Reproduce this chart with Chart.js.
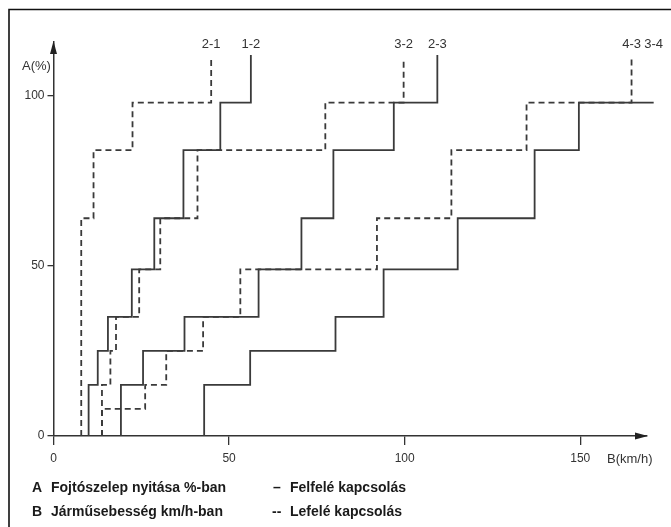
<!DOCTYPE html>
<html>
<head>
<meta charset="utf-8">
<script src="https://cdn.jsdelivr.net/npm/chart.js@4"></script>
<style>
  html, body { margin: 0; padding: 0; background: #fff; }
  #wrap { width: 671px; height: 527px; }
</style>
</head>
<body>
<div id="wrap"><canvas id="shiftChart" width="671" height="527"></canvas></div>
<script>
// throttle opening (A, %) where the steps are, bottom to top
const levels = [0, 8, 15, 25, 35, 49, 64, 84, 98];
const topUp = 112;      // where the solid lines end
const topDown = 111;    // where the dashed lines end
const labelLevel = 115.2;

// vehicle speed (B, km/h) for each throttle band
const up12   = [10.0, 10.0, 12.6, 15.5, 22.3, 28.7, 37.0, 47.5, 56.2];
const up23   = [19.2, 19.2, 25.5, 37.3, 58.4, 70.6, 79.7, 96.9, 109.3];
const up34   = [42.9, 42.9, 56.0, 80.3, 94.0, 115.1, 137.0, 149.6, 170.9];
const down21 = [7.9, 7.9, 7.9, 7.9, 7.9, 7.9, 11.4, 22.5, 44.9];
const down32 = [13.8, 13.8, 16.2, 17.8, 24.4, 30.4, 41.0, 77.4, 99.7];
const down43 = [13.8, 26.1, 32.1, 42.6, 53.2, 92.1, 113.3, 134.7, 164.6];

const xTicks = [0, 50, 100, 150];
const yTicks = [0, 50, 100];

const series = [
    { name: '2-1', speeds: down21, dashed: true },
    { name: '1-2', speeds: up12, dashed: false },
    { name: '3-2', speeds: down32, dashed: true },
    { name: '2-3', speeds: up23, dashed: false },
    { name: '4-3', speeds: down43, dashed: true },
    { name: '3-4', speeds: up34, dashed: false }
];

const FONT = '"Liberation Sans", Arial, Helvetica, sans-serif';
const LINE = '#3a3a3a';

// turn the speed per band into a staircase
function stepPoints(speeds, top) {
    const pts = [];
    speeds.forEach((s, i) => {
        const next = i < levels.length - 1 ? levels[i + 1] : top;
        pts.push({ x: s, y: levels[i] }, { x: s, y: next });
    });
    return pts;
}

const decorations = {
    id: 'decorations',
    afterDraw(chart) {
        const ctx = chart.ctx;
        const xs = chart.scales.x, ys = chart.scales.y;
        const x0 = xs.getPixelForValue(0), y0 = ys.getPixelForValue(0);
        ctx.save();

        // frame (left + top only)
        ctx.strokeStyle = '#111';
        ctx.lineWidth = 1.6;
        ctx.beginPath();
        ctx.moveTo(9, 527);
        ctx.lineTo(9, 9.5);
        ctx.lineTo(671, 9.5);
        ctx.stroke();

        // arrow heads
        ctx.fillStyle = '#222';
        ctx.beginPath();
        ctx.moveTo(x0, ys.top - 1);
        ctx.lineTo(x0 - 3.5, ys.top + 12);
        ctx.lineTo(x0 + 3.5, ys.top + 12);
        ctx.closePath();
        ctx.fill();
        ctx.beginPath();
        ctx.moveTo(xs.right + 1, y0);
        ctx.lineTo(xs.right - 12, y0 - 3.5);
        ctx.lineTo(xs.right - 12, y0 + 3.5);
        ctx.closePath();
        ctx.fill();

        // axis titles
        ctx.fillStyle = '#333';
        ctx.font = '13px ' + FONT;
        ctx.textBaseline = 'middle';
        ctx.textAlign = 'left';
        ctx.fillText('A(%)', 22, 66);
        ctx.fillText('B(km/h)', 607, 459);

        // gear change labels above each line
        ctx.textAlign = 'center';
        const ly = ys.getPixelForValue(labelLevel);
        series.forEach(s => {
            const x = xs.getPixelForValue(s.speeds[s.speeds.length - 1]);
            ctx.fillText(s.name, x, ly);
        });

        // key
        ctx.fillStyle = '#1a1a1a';
        ctx.font = 'bold 14px ' + FONT;
        ctx.textAlign = 'left';
        ctx.fillText('A', 32, 488);
        ctx.fillText('Fojtószelep nyitása %-ban', 51, 488);
        ctx.fillText('B', 32, 512);
        ctx.fillText('Járműsebesség km/h-ban', 51, 512);
        ctx.fillText('–', 273, 488);
        ctx.fillText('Felfelé kapcsolás', 290, 488);
        ctx.fillText('--', 272, 512);
        ctx.fillText('Lefelé kapcsolás', 290, 512);

        ctx.restore();
    }
};

new Chart(document.getElementById('shiftChart'), {
    type: 'scatter',
    data: {
        datasets: series.map(s => ({
            label: s.name,
            data: stepPoints(s.speeds, s.dashed ? topDown : topUp),
            showLine: true,
            borderColor: LINE,
            borderWidth: 1.8,
            borderDash: s.dashed ? [6, 4] : [],
            pointRadius: 0,
            fill: false,
            clip: false
        }))
    },
    options: {
        responsive: false,
        animation: false,
        layout: { padding: { left: 0, top: 42, right: 24, bottom: 51 } },
        plugins: {
            legend: { display: false },
            tooltip: { enabled: false }
        },
        scales: {
            x: {
                type: 'linear',
                min: 0,
                max: 169,
                afterFit: s => { s.height = 40; },
                afterBuildTicks: s => { s.ticks = xTicks.map(v => ({ value: v })); },
                grid: { drawOnChartArea: false, drawTicks: true, tickLength: 9, color: '#333', lineWidth: 1.3 },
                border: { display: true, color: '#333', width: 1.5 },
                ticks: { color: '#333', padding: 6, font: { size: 12, family: FONT } }
            },
            y: {
                type: 'linear',
                min: 0,
                max: 115.8,
                afterFit: s => { s.width = 53.5; },
                afterBuildTicks: s => { s.ticks = yTicks.map(v => ({ value: v })); },
                grid: { drawOnChartArea: false, drawTicks: true, tickLength: 6, color: '#333', lineWidth: 1.3 },
                border: { display: true, color: '#333', width: 1.5 },
                ticks: { color: '#333', padding: 3, font: { size: 12, family: FONT } }
            }
        }
    },
    plugins: [decorations]
});
</script>
</body>
</html>
